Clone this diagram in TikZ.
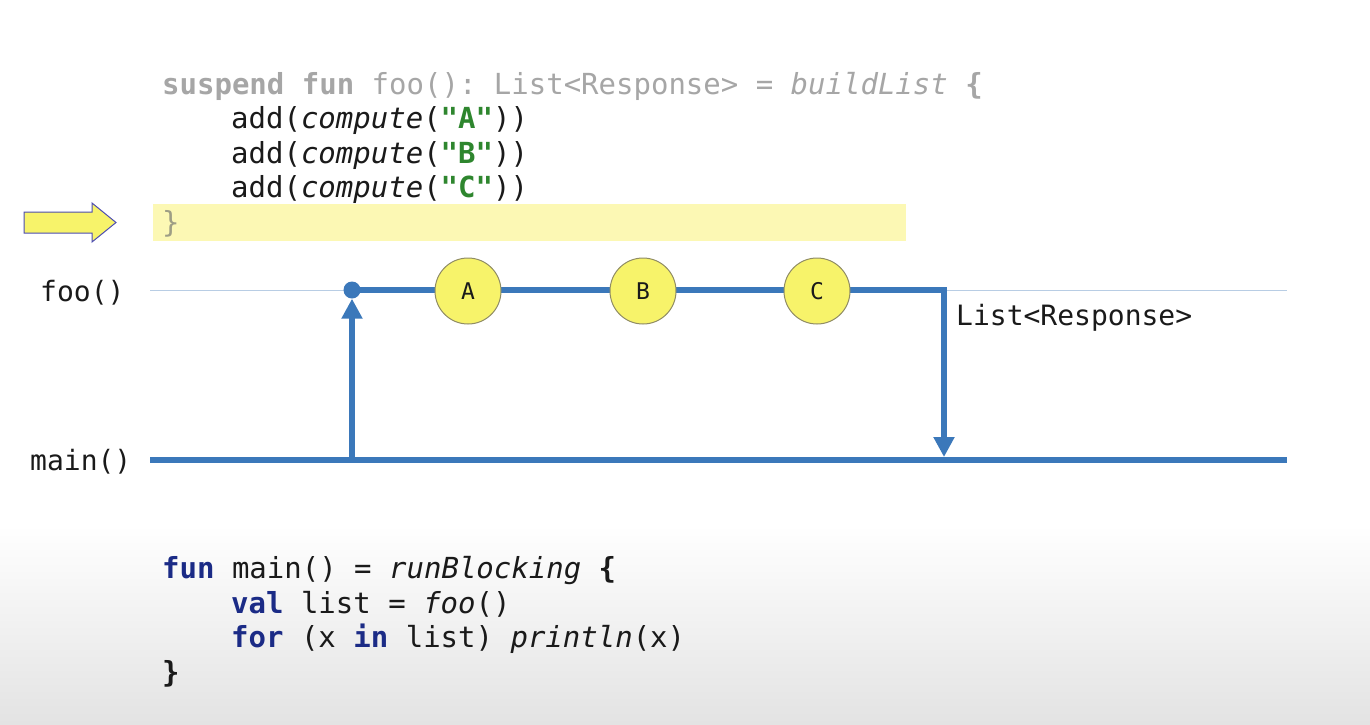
\documentclass[tikz,border=0pt]{standalone}
\usepackage{fontspec}
\newfontfamily\codefont{DejaVu Sans Mono}
\usetikzlibrary{arrows.meta}
\definecolor{flow}{HTML}{3B78BA}
\definecolor{thinline}{HTML}{B8CDE4}
\definecolor{gr}{HTML}{A6A6A6}
\definecolor{str}{HTML}{2E862E}
\definecolor{kw}{HTML}{1B2B86}
\definecolor{hl}{HTML}{FCF8B4}
\definecolor{yel}{HTML}{F7F36A}
\definecolor{ink}{HTML}{1A1A1A}
\frenchspacing
\begin{document}
\begin{tikzpicture}[x=1pt,y=-1pt,
  code/.style={anchor=base west, inner sep=0pt, text=ink, font=\codefont\fontsize{29}{34}\selectfont},
  lbl/.style={anchor=west, inner sep=0pt, text=ink, font=\codefont\fontsize{28}{34}\selectfont},
  ball/.style={circle, draw=gray!70!olive, line width=1, fill=yel, minimum size=66, inner sep=0pt, text=ink, font=\codefont\fontsize{23}{26}\selectfont},
  flowline/.style={draw=flow, line width=6}]
\useasboundingbox (0,0) rectangle (1370,724);
\fill[white] (0,0) rectangle (1370,724);
\shade[top color=white, bottom color=gray!22] (0,525) rectangle (1370,724);

% highlight and pointer arrow
\fill[hl] (153,204) rectangle (906,241);
\draw[fill=yel, draw=gray!60!blue, line width=1] (24,212) -- (92,212) -- (92,203) -- (116,222.5) -- (92,242) -- (92,233) -- (24,233) -- cycle;

% code top
\node[code, text=gr] (l1) at (162,94) {\textbf{suspend fun} foo(): List<Response> = \textit{buildList} \textbf{\{}};
\node[code] (l2) at (231,128) {add(\textit{compute}(\textcolor{str}{\textbf{"A"}}))};
\node[code] (l3) at (231,163) {add(\textit{compute}(\textcolor{str}{\textbf{"B"}}))};
\node[code] (l4) at (231,197) {add(\textit{compute}(\textcolor{str}{\textbf{"C"}}))};
\node[code, text=gr!80!olive] (l5) at (162,232) {\}};

% timelines
\node[lbl] (foolbl) at (40,293) {foo()};
\node[lbl] (mainlbl) at (30,462) {main()};
\coordinate (fooL) at (150,290);
\coordinate (fooR) at (1287,290);
\coordinate (mainL) at (150,460);
\coordinate (mainR) at (1287,460);
\draw[thinline, line width=1] (fooL) -- (fooR);
\draw[flow, line width=6.5] (mainL) -- (mainR);

\coordinate (start) at (352,460);
\coordinate (pA) at (468,291);
\coordinate (pB) at (643,291);
\coordinate (pC) at (817,291);
\coordinate (corner) at (944,290);
\coordinate (ret) at (944,457);
\node[circle, fill=flow, inner sep=0pt, minimum size=17] (dot) at (352,290) {};
\draw[flowline, line join=miter, -{Triangle[width=20,length=20]}] (dot.center) -- (corner) -- (ret);
\draw[flowline, -{Triangle[width=20,length=20]}] (start) -- (dot.south);
\node[ball] (A) at (pA) {A};
\node[ball] (B) at (pB) {B};
\node[ball] (C) at (pC) {C};
\node[lbl] (res) at (956,318) {List<Response>};

% code bottom
\node[code] (m1) at (162,578) {\textcolor{kw}{\textbf{fun}} main() = \textit{runBlocking} \textbf{\{}};
\node[code] (m2) at (231,613) {\textcolor{kw}{\textbf{val}} list = \textit{foo}()};
\node[code] (m3) at (231,647) {\textcolor{kw}{\textbf{for}} (x \textcolor{kw}{\textbf{in}} list) \textit{println}(x)};
\node[code] (m4) at (162,682) {\textbf{\}}};
\end{tikzpicture}
\end{document}
